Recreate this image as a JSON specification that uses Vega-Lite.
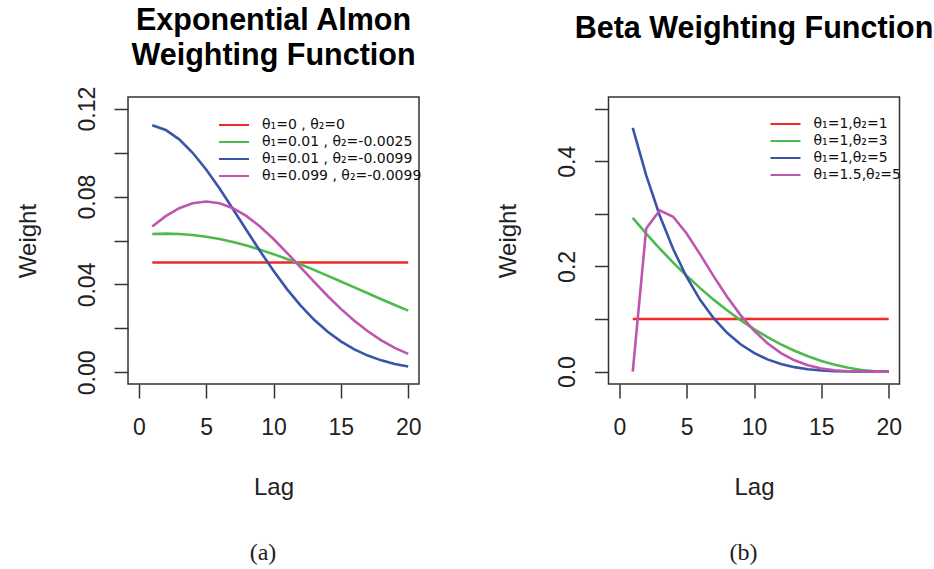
{
"$schema": "https://vega.github.io/schema/vega-lite/v6.json",
"background": "white",
"padding": {"left": 15, "top": 5, "right": 5, "bottom": 5},
"datasets": {
"almon": [
{"lag":1,"weight":0.05,"series":"θ₁=0 , θ₂=0"},{"lag":2,"weight":0.05,"series":"θ₁=0 , θ₂=0"},{"lag":3,"weight":0.05,"series":"θ₁=0 , θ₂=0"},{"lag":4,"weight":0.05,"series":"θ₁=0 , θ₂=0"},{"lag":5,"weight":0.05,"series":"θ₁=0 , θ₂=0"},{"lag":6,"weight":0.05,"series":"θ₁=0 , θ₂=0"},{"lag":7,"weight":0.05,"series":"θ₁=0 , θ₂=0"},{"lag":8,"weight":0.05,"series":"θ₁=0 , θ₂=0"},{"lag":9,"weight":0.05,"series":"θ₁=0 , θ₂=0"},{"lag":10,"weight":0.05,"series":"θ₁=0 , θ₂=0"},{"lag":11,"weight":0.05,"series":"θ₁=0 , θ₂=0"},{"lag":12,"weight":0.05,"series":"θ₁=0 , θ₂=0"},{"lag":13,"weight":0.05,"series":"θ₁=0 , θ₂=0"},{"lag":14,"weight":0.05,"series":"θ₁=0 , θ₂=0"},{"lag":15,"weight":0.05,"series":"θ₁=0 , θ₂=0"},{"lag":16,"weight":0.05,"series":"θ₁=0 , θ₂=0"},{"lag":17,"weight":0.05,"series":"θ₁=0 , θ₂=0"},{"lag":18,"weight":0.05,"series":"θ₁=0 , θ₂=0"},{"lag":19,"weight":0.05,"series":"θ₁=0 , θ₂=0"},{"lag":20,"weight":0.05,"series":"θ₁=0 , θ₂=0"},
{"lag":1,"weight":0.06297,"series":"θ₁=0.01 , θ₂=-0.0025"},{"lag":2,"weight":0.06312,"series":"θ₁=0.01 , θ₂=-0.0025"},{"lag":3,"weight":0.06297,"series":"θ₁=0.01 , θ₂=-0.0025"},{"lag":4,"weight":0.0625,"series":"θ₁=0.01 , θ₂=-0.0025"},{"lag":5,"weight":0.06172,"series":"θ₁=0.01 , θ₂=-0.0025"},{"lag":6,"weight":0.06065,"series":"θ₁=0.01 , θ₂=-0.0025"},{"lag":7,"weight":0.0593,"series":"θ₁=0.01 , θ₂=-0.0025"},{"lag":8,"weight":0.05769,"series":"θ₁=0.01 , θ₂=-0.0025"},{"lag":9,"weight":0.05585,"series":"θ₁=0.01 , θ₂=-0.0025"},{"lag":10,"weight":0.05379,"series":"θ₁=0.01 , θ₂=-0.0025"},{"lag":11,"weight":0.05155,"series":"θ₁=0.01 , θ₂=-0.0025"},{"lag":12,"weight":0.04916,"series":"θ₁=0.01 , θ₂=-0.0025"},{"lag":13,"weight":0.04665,"series":"θ₁=0.01 , θ₂=-0.0025"},{"lag":14,"weight":0.04404,"series":"θ₁=0.01 , θ₂=-0.0025"},{"lag":15,"weight":0.04137,"series":"θ₁=0.01 , θ₂=-0.0025"},{"lag":16,"weight":0.03867,"series":"θ₁=0.01 , θ₂=-0.0025"},{"lag":17,"weight":0.03597,"series":"θ₁=0.01 , θ₂=-0.0025"},{"lag":18,"weight":0.03329,"series":"θ₁=0.01 , θ₂=-0.0025"},{"lag":19,"weight":0.03065,"series":"θ₁=0.01 , θ₂=-0.0025"},{"lag":20,"weight":0.02808,"series":"θ₁=0.01 , θ₂=-0.0025"},
{"lag":1,"weight":0.11248,"series":"θ₁=0.01 , θ₂=-0.0099"},{"lag":2,"weight":0.11029,"series":"θ₁=0.01 , θ₂=-0.0099"},{"lag":3,"weight":0.10602,"series":"θ₁=0.01 , θ₂=-0.0099"},{"lag":4,"weight":0.09991,"series":"θ₁=0.01 , θ₂=-0.0099"},{"lag":5,"weight":0.09232,"series":"θ₁=0.01 , θ₂=-0.0099"},{"lag":6,"weight":0.08362,"series":"θ₁=0.01 , θ₂=-0.0099"},{"lag":7,"weight":0.07426,"series":"θ₁=0.01 , θ₂=-0.0099"},{"lag":8,"weight":0.06466,"series":"θ₁=0.01 , θ₂=-0.0099"},{"lag":9,"weight":0.05519,"series":"θ₁=0.01 , θ₂=-0.0099"},{"lag":10,"weight":0.04619,"series":"θ₁=0.01 , θ₂=-0.0099"},{"lag":11,"weight":0.03789,"series":"θ₁=0.01 , θ₂=-0.0099"},{"lag":12,"weight":0.03048,"series":"θ₁=0.01 , θ₂=-0.0099"},{"lag":13,"weight":0.02404,"series":"θ₁=0.01 , θ₂=-0.0099"},{"lag":14,"weight":0.01858,"series":"θ₁=0.01 , θ₂=-0.0099"},{"lag":15,"weight":0.01409,"series":"θ₁=0.01 , θ₂=-0.0099"},{"lag":16,"weight":0.01047,"series":"θ₁=0.01 , θ₂=-0.0099"},{"lag":17,"weight":0.00763,"series":"θ₁=0.01 , θ₂=-0.0099"},{"lag":18,"weight":0.00545,"series":"θ₁=0.01 , θ₂=-0.0099"},{"lag":19,"weight":0.00381,"series":"θ₁=0.01 , θ₂=-0.0099"},{"lag":20,"weight":0.00262,"series":"θ₁=0.01 , θ₂=-0.0099"},
{"lag":1,"weight":0.06633,"series":"θ₁=0.099 , θ₂=-0.0099"},{"lag":2,"weight":0.07109,"series":"θ₁=0.099 , θ₂=-0.0099"},{"lag":3,"weight":0.0747,"series":"θ₁=0.099 , θ₂=-0.0099"},{"lag":4,"weight":0.07695,"series":"θ₁=0.099 , θ₂=-0.0099"},{"lag":5,"weight":0.07771,"series":"θ₁=0.099 , θ₂=-0.0099"},{"lag":6,"weight":0.07695,"series":"θ₁=0.099 , θ₂=-0.0099"},{"lag":7,"weight":0.0747,"series":"θ₁=0.099 , θ₂=-0.0099"},{"lag":8,"weight":0.07109,"series":"θ₁=0.099 , θ₂=-0.0099"},{"lag":9,"weight":0.06633,"series":"θ₁=0.099 , θ₂=-0.0099"},{"lag":10,"weight":0.06068,"series":"θ₁=0.099 , θ₂=-0.0099"},{"lag":11,"weight":0.05441,"series":"θ₁=0.099 , θ₂=-0.0099"},{"lag":12,"weight":0.04784,"series":"θ₁=0.099 , θ₂=-0.0099"},{"lag":13,"weight":0.04124,"series":"θ₁=0.099 , θ₂=-0.0099"},{"lag":14,"weight":0.03485,"series":"θ₁=0.099 , θ₂=-0.0099"},{"lag":15,"weight":0.02888,"series":"θ₁=0.099 , θ₂=-0.0099"},{"lag":16,"weight":0.02346,"series":"θ₁=0.099 , θ₂=-0.0099"},{"lag":17,"weight":0.01868,"series":"θ₁=0.099 , θ₂=-0.0099"},{"lag":18,"weight":0.01458,"series":"θ₁=0.099 , θ₂=-0.0099"},{"lag":19,"weight":0.01116,"series":"θ₁=0.099 , θ₂=-0.0099"},{"lag":20,"weight":0.00838,"series":"θ₁=0.099 , θ₂=-0.0099"}
],
"beta": [
{"lag":1,"weight":0.1,"series":"θ₁=1,θ₂=1"},{"lag":2,"weight":0.1,"series":"θ₁=1,θ₂=1"},{"lag":3,"weight":0.1,"series":"θ₁=1,θ₂=1"},{"lag":4,"weight":0.1,"series":"θ₁=1,θ₂=1"},{"lag":5,"weight":0.1,"series":"θ₁=1,θ₂=1"},{"lag":6,"weight":0.1,"series":"θ₁=1,θ₂=1"},{"lag":7,"weight":0.1,"series":"θ₁=1,θ₂=1"},{"lag":8,"weight":0.1,"series":"θ₁=1,θ₂=1"},{"lag":9,"weight":0.1,"series":"θ₁=1,θ₂=1"},{"lag":10,"weight":0.1,"series":"θ₁=1,θ₂=1"},{"lag":11,"weight":0.1,"series":"θ₁=1,θ₂=1"},{"lag":12,"weight":0.1,"series":"θ₁=1,θ₂=1"},{"lag":13,"weight":0.1,"series":"θ₁=1,θ₂=1"},{"lag":14,"weight":0.1,"series":"θ₁=1,θ₂=1"},{"lag":15,"weight":0.1,"series":"θ₁=1,θ₂=1"},{"lag":16,"weight":0.1,"series":"θ₁=1,θ₂=1"},{"lag":17,"weight":0.1,"series":"θ₁=1,θ₂=1"},{"lag":18,"weight":0.1,"series":"θ₁=1,θ₂=1"},{"lag":19,"weight":0.1,"series":"θ₁=1,θ₂=1"},{"lag":20,"weight":0.1,"series":"θ₁=1,θ₂=1"},
{"lag":1,"weight":0.29231,"series":"θ₁=1,θ₂=3"},{"lag":2,"weight":0.26235,"series":"θ₁=1,θ₂=3"},{"lag":3,"weight":0.23401,"series":"θ₁=1,θ₂=3"},{"lag":4,"weight":0.20729,"series":"θ₁=1,θ₂=3"},{"lag":5,"weight":0.18219,"series":"θ₁=1,θ₂=3"},{"lag":6,"weight":0.15871,"series":"θ₁=1,θ₂=3"},{"lag":7,"weight":0.13684,"series":"θ₁=1,θ₂=3"},{"lag":8,"weight":0.1166,"series":"θ₁=1,θ₂=3"},{"lag":9,"weight":0.09798,"series":"θ₁=1,θ₂=3"},{"lag":10,"weight":0.08097,"series":"θ₁=1,θ₂=3"},{"lag":11,"weight":0.06559,"series":"θ₁=1,θ₂=3"},{"lag":12,"weight":0.05182,"series":"θ₁=1,θ₂=3"},{"lag":13,"weight":0.03968,"series":"θ₁=1,θ₂=3"},{"lag":14,"weight":0.02915,"series":"θ₁=1,θ₂=3"},{"lag":15,"weight":0.02024,"series":"θ₁=1,θ₂=3"},{"lag":16,"weight":0.01296,"series":"θ₁=1,θ₂=3"},{"lag":17,"weight":0.00729,"series":"θ₁=1,θ₂=3"},{"lag":18,"weight":0.00324,"series":"θ₁=1,θ₂=3"},{"lag":19,"weight":0.00081,"series":"θ₁=1,θ₂=3"},{"lag":20,"weight":0,"series":"θ₁=1,θ₂=3"},
{"lag":1,"weight":0.46323,"series":"θ₁=1,θ₂=5"},{"lag":2,"weight":0.37314,"series":"θ₁=1,θ₂=5"},{"lag":3,"weight":0.29688,"series":"θ₁=1,θ₂=5"},{"lag":4,"weight":0.23295,"series":"θ₁=1,θ₂=5"},{"lag":5,"weight":0.17995,"series":"θ₁=1,θ₂=5"},{"lag":6,"weight":0.13655,"series":"θ₁=1,θ₂=5"},{"lag":7,"weight":0.10152,"series":"θ₁=1,θ₂=5"},{"lag":8,"weight":0.07371,"series":"θ₁=1,θ₂=5"},{"lag":9,"weight":0.05204,"series":"θ₁=1,θ₂=5"},{"lag":10,"weight":0.03555,"series":"θ₁=1,θ₂=5"},{"lag":11,"weight":0.02332,"series":"θ₁=1,θ₂=5"},{"lag":12,"weight":0.01456,"series":"θ₁=1,θ₂=5"},{"lag":13,"weight":0.00853,"series":"θ₁=1,θ₂=5"},{"lag":14,"weight":0.00461,"series":"θ₁=1,θ₂=5"},{"lag":15,"weight":0.00222,"series":"θ₁=1,θ₂=5"},{"lag":16,"weight":0.00091,"series":"θ₁=1,θ₂=5"},{"lag":17,"weight":0.00029,"series":"θ₁=1,θ₂=5"},{"lag":18,"weight":0.00006,"series":"θ₁=1,θ₂=5"},{"lag":19,"weight":0.000004,"series":"θ₁=1,θ₂=5"},{"lag":20,"weight":0,"series":"θ₁=1,θ₂=5"},
{"lag":1,"weight":0,"series":"θ₁=1.5,θ₂=5"},{"lag":2,"weight":0.2723,"series":"θ₁=1.5,θ₂=5"},{"lag":3,"weight":0.30638,"series":"θ₁=1.5,θ₂=5"},{"lag":4,"weight":0.29444,"series":"θ₁=1.5,θ₂=5"},{"lag":5,"weight":0.26263,"series":"θ₁=1.5,θ₂=5"},{"lag":6,"weight":0.22282,"series":"θ₁=1.5,θ₂=5"},{"lag":7,"weight":0.18147,"series":"θ₁=1.5,θ₂=5"},{"lag":8,"weight":0.14231,"series":"θ₁=1.5,θ₂=5"},{"lag":9,"weight":0.10742,"series":"θ₁=1.5,θ₂=5"},{"lag":10,"weight":0.07782,"series":"θ₁=1.5,θ₂=5"},{"lag":11,"weight":0.05382,"series":"θ₁=1.5,θ₂=5"},{"lag":12,"weight":0.03524,"series":"θ₁=1.5,θ₂=5"},{"lag":13,"weight":0.02157,"series":"θ₁=1.5,θ₂=5"},{"lag":14,"weight":0.01212,"series":"θ₁=1.5,θ₂=5"},{"lag":15,"weight":0.00607,"series":"θ₁=1.5,θ₂=5"},{"lag":16,"weight":0.00257,"series":"θ₁=1.5,θ₂=5"},{"lag":17,"weight":0.00084,"series":"θ₁=1.5,θ₂=5"},{"lag":18,"weight":0.00017,"series":"θ₁=1.5,θ₂=5"},{"lag":19,"weight":0.00001,"series":"θ₁=1.5,θ₂=5"},{"lag":20,"weight":0,"series":"θ₁=1.5,θ₂=5"}
]
},
"config": {
"view": {"stroke": "#333333", "strokeWidth": 1.5},
"font": "Liberation Sans",
"axis": {"domain": false, "grid": false, "ticks": true, "tickSize": 14, "tickWidth": 1.5, "tickColor": "#333333", "labelFont": "Liberation Sans", "labelFontSize": 23, "labelColor": "#222222", "labelFlush": false, "labelOverlap": false, "titleFont": "Liberation Sans", "titleFontSize": 24, "titleFontWeight": "normal", "titleColor": "#222222"},
"axisX": {"labelPadding": 18, "titlePadding": 36, "labelAngle": 0},
"axisY": {"labelAngle": 270, "labelAlign": "center", "labelBaseline": "alphabetic", "labelPadding": 20, "titlePadding": 36},
"legend": {"title": null, "orient": "none", "symbolType": "M-5,0H5", "symbolSize": 36, "symbolStrokeWidth": 2, "labelOffset": 21, "labelFont": "DejaVu Sans", "labelFontSize": 14, "labelColor": "#111111", "rowPadding": 3, "padding": 0, "labelLimit": 400}
},
"spacing": 73.5,
"resolve": {"scale": {"color": "independent", "x": "independent", "y": "independent"}, "legend": {"color": "independent"}},
"hconcat": [
{
"title": {"text": "(a)", "orient": "bottom", "anchor": "middle", "font": "Liberation Serif", "fontSize": 24, "fontWeight": "normal", "color": "#222222", "offset": 41, "dx": 135, "baseline": "top", "frame": "group"},
"vconcat": [{
"title": {"text": ["Exponential Almon", "Weighting Function"], "fontSize": 30.5, "fontWeight": "bold", "lineHeight": 35, "baseline": "alphabetic", "offset": -9, "frame": "group", "color": "#000000"},
"width": 291, "height": 287,
"data": {"name": "almon"},
"mark": {"type": "line", "strokeWidth": 2.6, "clip": true},
"encoding": {
"x": {"field": "lag", "type": "quantitative", "scale": {"domain": [-0.8, 20.8], "nice": false, "zero": false}, "axis": {"values": [0, 5, 10, 15, 20], "title": "Lag"}},
"y": {"field": "weight", "type": "quantitative", "scale": {"domain": [-0.0053, 0.1253], "nice": false, "zero": false}, "axis": {"values": [0, 0.02, 0.04, 0.06, 0.08, 0.1, 0.12], "labelExpr": "round(datum.value*100) % 4 == 0 ? format(datum.value, '.2f') : ''", "title": "Weight"}},
"color": {"field": "series", "type": "nominal", "scale": {"domain": ["θ₁=0 , θ₂=0", "θ₁=0.01 , θ₂=-0.0025", "θ₁=0.01 , θ₂=-0.0099", "θ₁=0.099 , θ₂=-0.0099"], "range": ["#EE2A2A", "#4CBB4C", "#3A55A8", "#BE56B0"]}, "legend": {"legendX": 99, "legendY": 21}}
}
}]
},
{
"title": {"text": "(b)", "orient": "bottom", "anchor": "middle", "font": "Liberation Serif", "fontSize": 24, "fontWeight": "normal", "color": "#222222", "offset": 41, "dx": 135, "baseline": "top", "frame": "group"},
"vconcat": [{
"title": {"text": "Beta Weighting Function", "fontSize": 30.5, "fontWeight": "bold", "baseline": "alphabetic", "offset": 29, "frame": "group", "color": "#000000"},
"width": 291, "height": 287,
"data": {"name": "beta"},
"mark": {"type": "line", "strokeWidth": 2.6, "clip": true},
"encoding": {
"x": {"field": "lag", "type": "quantitative", "scale": {"domain": [-0.8, 20.8], "nice": false, "zero": false}, "axis": {"values": [0, 5, 10, 15, 20], "title": "Lag"}},
"y": {"field": "weight", "type": "quantitative", "scale": {"domain": [-0.0235, 0.522], "nice": false, "zero": false}, "axis": {"values": [0, 0.1, 0.2, 0.3, 0.4, 0.5], "labelExpr": "(round(datum.value*10) % 2 == 0 && datum.value < 0.45) ? format(datum.value, '.1f') : ''", "title": "Weight"}},
"color": {"field": "series", "type": "nominal", "scale": {"domain": ["θ₁=1,θ₂=1", "θ₁=1,θ₂=3", "θ₁=1,θ₂=5", "θ₁=1.5,θ₂=5"], "range": ["#EE2A2A", "#4CBB4C", "#3A55A8", "#BE56B0"]}, "legend": {"legendX": 170, "legendY": 20}}
}
}]
}
]
}
